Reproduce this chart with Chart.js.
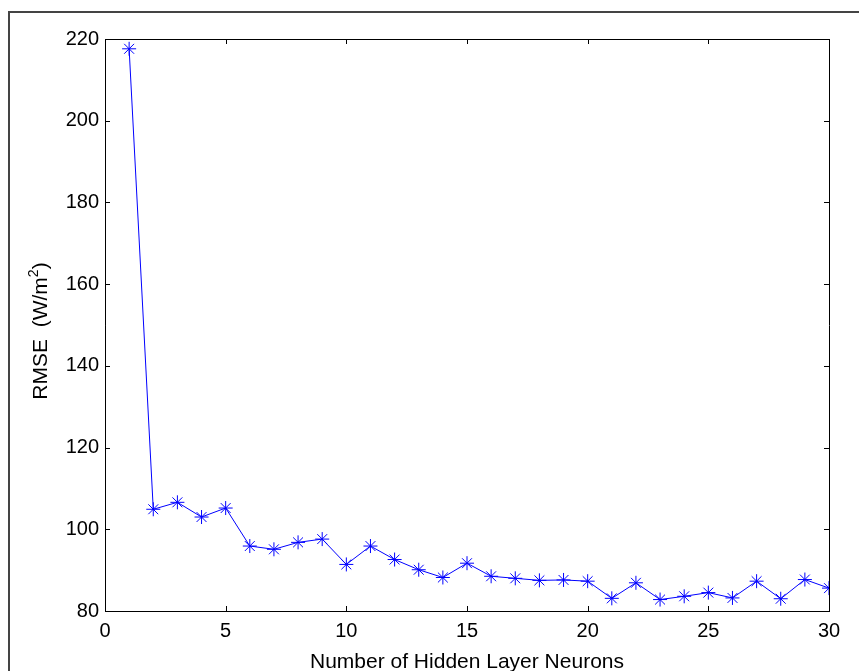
<!DOCTYPE html>
<html>
<head>
<meta charset="utf-8">
<script src="https://cdn.jsdelivr.net/npm/chart.js@4"></script>
<style>
  html, body { margin: 0; padding: 0; background: #fff; }
  #wrap { width: 859px; height: 671px; position: relative; }
</style>
</head>
<body>
<div id="wrap"><canvas id="rmse"></canvas></div>
<script>
const neurons = [1, 2, 3, 4, 5, 6, 7, 8, 9, 10, 11, 12, 13, 14, 15,
  16, 17, 18, 19, 20, 21, 22, 23, 24, 25, 26, 27, 28, 29, 30];
const rmse = [217.6, 104.9, 106.6, 103.0, 105.2, 95.9, 95.1, 96.8, 97.6, 91.4,
  95.9, 92.6, 90.1, 88.2, 91.7, 88.5, 88.0, 87.5, 87.6, 87.3,
  83.1, 86.9, 82.8, 83.6, 84.5, 83.2, 87.3, 83.0, 87.7, 85.6];
const xTicks = [0, 5, 10, 15, 20, 25, 30];
const yTicks = [80, 100, 120, 140, 160, 180, 200, 220];

const FONT = "Arial, 'Liberation Sans', sans-serif";

// matlab style box: inward ticks on all four sides, outer figure frame,
// and the y label with a real superscript
const boxTicks = {
  id: "boxTicks",
  afterDraw(chart) {
    const c = chart.ctx;
    const a = chart.chartArea;
    const xs = chart.scales.x, ys = chart.scales.y;
    const len = 5;
    c.save();
    c.strokeStyle = "#000";
    c.lineWidth = 1;
    c.beginPath();
    c.rect(a.left + 0.5, a.top + 0.5, a.right - a.left, a.bottom - a.top);
    xTicks.forEach(v => {
      const px = Math.round(xs.getPixelForValue(v)) + 0.5;
      c.moveTo(px, a.bottom); c.lineTo(px, a.bottom - len);
      c.moveTo(px, a.top); c.lineTo(px, a.top + len);
    });
    yTicks.forEach(v => {
      const py = Math.round(ys.getPixelForValue(v)) + 0.5;
      c.moveTo(a.left, py); c.lineTo(a.left + len, py);
      c.moveTo(a.right, py); c.lineTo(a.right - len, py);
    });
    c.stroke();

    // figure frame
    c.strokeStyle = "#444";
    c.lineWidth = 2;
    c.beginPath();
    c.moveTo(9, 700); c.lineTo(9, 12); c.lineTo(900, 12);
    c.stroke();

    // y label: RMSE  (W/m^2)
    const big = "21px " + FONT, small = "14px " + FONT;
    const p1 = "RMSE  (W/m", p2 = "2", p3 = ")";
    c.font = big;
    const w1 = c.measureText(p1).width, w3 = c.measureText(p3).width;
    c.font = small;
    const w2 = c.measureText(p2).width;
    const total = w1 + w2 + w3;
    c.translate(47, 331);
    c.rotate(-Math.PI / 2);
    c.fillStyle = "#000";
    c.textBaseline = "alphabetic";
    c.textAlign = "left";
    let x = -total / 2;
    c.font = big; c.fillText(p1, x, 0); x += w1;
    c.font = small; c.fillText(p2, x, -9); x += w2;
    c.font = big; c.fillText(p3, x, 0);
    c.restore();
  }
};

new Chart(document.getElementById("rmse"), {
  type: "line",
  data: {
    datasets: [
      {
        label: "RMSE",
        data: neurons.map((n, i) => ({ x: n, y: rmse[i] })),
        borderColor: "#0000ff",
        backgroundColor: "#0000ff",
        borderWidth: 1,
        tension: 0,
        pointStyle: "star",
        pointRadius: 7,
        pointBorderWidth: 1,
        pointBorderColor: "#0000ff",
        fill: false,
      },
    ],
  },
  options: {
    responsive: true,
    maintainAspectRatio: false,
    animation: false,
    layout: { padding: { left: 0, right: 30, top: 39, bottom: 0 } },
    plugins: {
      legend: { display: false },
      tooltip: { enabled: false },
    },
    scales: {
      x: {
        type: "linear",
        min: 0,
        max: 30,
        afterBuildTicks: (s) => { s.ticks = xTicks.map(v => ({ value: v })); },
        afterFit: (s) => { s.height = 60; },
        grid: { display: false, drawTicks: false },
        border: { display: true, color: "#000" },
        ticks: { color: "#000", padding: 8, maxRotation: 0, font: { family: FONT, size: 20 } },
        title: {
          display: true,
          text: "Number of Hidden Layer Neurons",
          color: "#000",
          padding: { top: 0, bottom: -4 },
          font: { family: FONT, size: 21 },
        },
      },
      y: {
        min: 80,
        max: 220,
        afterBuildTicks: (s) => { s.ticks = yTicks.map(v => ({ value: v })); },
        afterFit: (s) => { s.width = 105; },
        grid: { display: false, drawTicks: false },
        border: { display: true, color: "#000" },
        ticks: { color: "#000", padding: 6, font: { family: FONT, size: 20 } },
      },
    },
  },
  plugins: [boxTicks],
});
</script>
</body>
</html>
